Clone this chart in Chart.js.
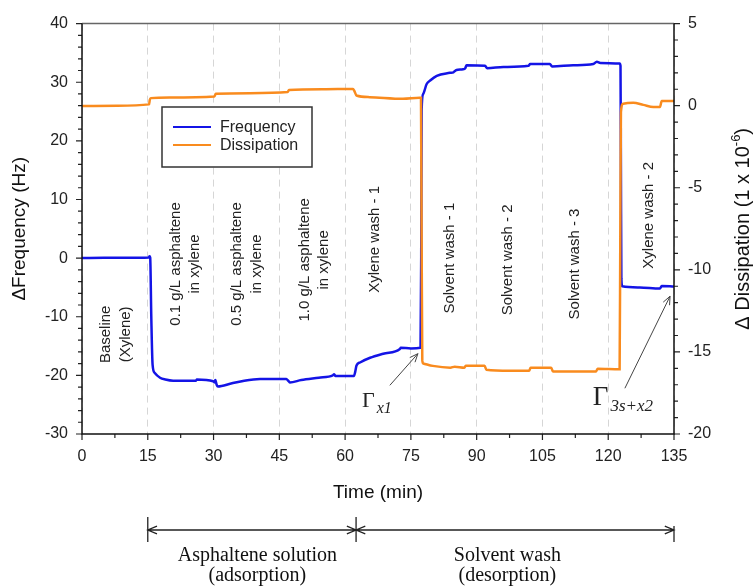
<!DOCTYPE html>
<html>
<head>
<meta charset="utf-8">
<script src="https://cdn.jsdelivr.net/npm/chart.js@4.4.1/dist/chart.umd.min.js"></script>
<style>
  html, body { margin: 0; padding: 0; background: #fff; }
</style>
</head>
<body>
<canvas id="myChart" width="754" height="586"></canvas>
<script>
// frequency shift (Hz), left axis
const freqTime = [0, 5, 10, 15.2, 15.4, 15.55, 15.8, 16.1, 16.6, 17.8, 19, 20.8, 26, 26.2, 29.9, 30.2, 30.4, 30.7, 31.0, 34, 37, 40.6, 46.6, 47.0, 47.4, 50, 54, 57.2, 57.5, 57.8, 62.0, 62.3, 62.6, 63.4, 65.7, 68.7, 72.5, 72.7, 75, 77.2, 77.35, 77.45, 77.8, 78.6, 79.4, 80.9, 83.9, 84.7, 85.4, 86.9, 87.4, 87.7, 91.9, 92.4, 96.1, 101.8, 102.2, 106.7, 107.2, 112, 116.6, 117.4, 118.2, 122.6, 122.8, 122.9, 123.0, 123.2, 127.2, 131.8, 132.2, 135];
const freqValues = [0, 0.05, 0.05, 0.1, 0.3, 0.1, -10, -18.2, -19.6, -20.4, -20.7, -20.9, -20.9, -20.7, -21.0, -21.2, -20.8, -21.6, -21.9, -21.4, -20.9, -20.6, -20.6, -20.9, -21.2, -20.8, -20.4, -20.0, -19.8, -20.1, -20.1, -19.4, -18.3, -17.8, -17.0, -16.3, -15.5, -15.3, -15.4, -15.3, 0, 25.2, 28.0, 29.7, 30.3, 31.1, 31.6, 31.7, 32.1, 32.2, 32.4, 32.9, 32.8, 32.4, 32.6, 32.8, 33.1, 33.1, 32.7, 32.9, 33.1, 33.5, 33.3, 33.2, 32.8, 15, -3.5, -4.8, -5.0, -5.2, -4.75, -4.85];

// dissipation shift (1e-6), right axis
const dissTime = [0, 8, 15.3, 15.45, 15.7, 20, 30.2, 30.5, 38.3, 46.9, 47.2, 55, 61.8, 62.1, 62.6, 65.6, 73.2, 77.0, 77.3, 77.45, 77.6, 77.8, 80, 84, 85, 87.2, 87.5, 91.8, 92.2, 97.6, 102, 102.3, 107, 107.4, 117.2, 117.6, 122.6, 122.75, 122.9, 123.4, 125.7, 128, 130.3, 131.8, 132.2, 135];
const dissValues = [-0.02, 0, 0.08, 0.35, 0.46, 0.5, 0.56, 0.72, 0.76, 0.83, 0.96, 1.0, 1.02, 0.9, 0.62, 0.52, 0.42, 0.48, 0.48, -8, -15.5, -15.7, -15.85, -15.96, -15.9, -15.96, -15.84, -15.84, -16.08, -16.14, -16.14, -15.96, -15.96, -16.2, -16.2, -16.02, -16.05, -8, -0.4, 0.12, 0.18, 0.05, -0.08, -0.08, 0.28, 0.28];

// stage labels written upright inside the plot (time, frequency level)
const stageNames = [['Baseline', '(Xylene)'], ['0.1 g/L asphaltene', 'in xylene'], ['0.5 g/L asphaltene', 'in xylene'], ['1.0 g/L asphaltene', 'in xylene'], ['Xylene wash - 1'], ['Solvent wash - 1'], ['Solvent wash - 2'], ['Solvent wash - 3'], ['Xylene wash - 2']];
const stageTime = [7.75, 23.6, 37.6, 53.0, 66.8, 83.9, 97.0, 112.5, 129.2];
const stageLevel = [-13, -1, -1, -0.3, 3.2, 0, -0.3, -1.0, 7.3];

// Gamma markers with arrows
const gammaSub = ['x1', '3s+x2'];
const gammaTime = [63.85, 116.5];
const gammaLevel = [-25.4, -25.1];
const arrowFromTime = [70.2, 123.8];
const arrowFromLevel = [-21.7, -22.2];
const arrowToTime = [76.6, 134.1];
const arrowToLevel = [-16.3, -6.5];

// phases below the axis
const phaseBounds = [15, 62.5, 135];
const phaseNames = [['Asphaltene solution', '(adsorption)'], ['Solvent wash', '(desorption)']];
const phaseCenter = [40, 97];

const SANS = '"Liberation Sans", Arial, sans-serif';
const SERIF = '"Liberation Serif", "Times New Roman", serif';
Chart.defaults.font.family = SANS;
Chart.defaults.color = '#222';

const arrowHead = (ctx, x0, y0, x1, y1, len) => {
  const a = Math.atan2(y1 - y0, x1 - x0);
  ctx.moveTo(x1 - len * Math.cos(a - 0.4), y1 - len * Math.sin(a - 0.4));
  ctx.lineTo(x1, y1);
  ctx.lineTo(x1 - len * Math.cos(a + 0.4), y1 - len * Math.sin(a + 0.4));
};

const notesPlugin = {
  id: 'notes',
  afterDraw(chart) {
    const { ctx, chartArea: area } = chart;
    const { x, y, y2 } = chart.scales;
    ctx.save();

    // tick marks, major and minor
    ctx.strokeStyle = '#222';
    ctx.lineWidth = 1.2;
    ctx.beginPath();
    for (let v = -30; v <= 40; v += 2) {
      const py = y.getPixelForValue(v);
      const len = v % 10 === 0 ? 6 : 4;
      ctx.moveTo(area.left - len, py);
      ctx.lineTo(area.left, py);
    }
    for (let v = -20; v <= 5; v += 1) {
      const py = y2.getPixelForValue(v);
      const len = v % 5 === 0 ? 6 : 4;
      ctx.moveTo(area.right, py);
      ctx.lineTo(area.right + len, py);
    }
    for (let t = 0; t <= 135; t += 7.5) {
      const px = x.getPixelForValue(t);
      const len = t % 15 === 0 ? 6 : 4;
      ctx.moveTo(px, area.bottom);
      ctx.lineTo(px, area.bottom + len);
    }
    ctx.stroke();

    // frame
    ctx.lineWidth = 1.5;
    ctx.strokeStyle = '#666';
    ctx.beginPath();
    ctx.moveTo(area.left, area.top);
    ctx.lineTo(area.right, area.top);
    ctx.stroke();
    ctx.strokeStyle = '#111';
    ctx.beginPath();
    ctx.moveTo(area.left, area.top);
    ctx.lineTo(area.left, area.bottom);
    ctx.lineTo(area.right, area.bottom);
    ctx.lineTo(area.right, area.top);
    ctx.stroke();

    // legend
    ctx.fillStyle = '#fff';
    ctx.fillRect(162, 107, 150, 60);
    ctx.strokeStyle = '#333';
    ctx.lineWidth = 1.5;
    ctx.strokeRect(162, 107, 150, 60);
    ctx.font = '16px ' + SANS;
    ctx.textAlign = 'left';
    ctx.textBaseline = 'middle';
    chart.data.datasets.forEach((ds, i) => {
      const ly = 127 + i * 18;
      ctx.strokeStyle = ds.borderColor;
      ctx.lineWidth = 2;
      ctx.beginPath();
      ctx.moveTo(173, ly);
      ctx.lineTo(211, ly);
      ctx.stroke();
      ctx.fillStyle = '#222';
      ctx.fillText(ds.label, 220, ly + 1);
    });

    // stage labels
    ctx.font = '15px ' + SANS;
    ctx.textAlign = 'center';
    ctx.fillStyle = '#222';
    stageNames.forEach((lines, i) => {
      ctx.save();
      ctx.translate(x.getPixelForValue(stageTime[i]), y.getPixelForValue(stageLevel[i]));
      ctx.rotate(-Math.PI / 2);
      lines.forEach((s, k) => ctx.fillText(s, 0, (k - (lines.length - 1) / 2) * 19.5));
      ctx.restore();
    });

    // gamma markers
    ctx.textAlign = 'left';
    ctx.textBaseline = 'alphabetic';
    gammaSub.forEach((sub, i) => {
      const gx = x.getPixelForValue(gammaTime[i]);
      const gy = y.getPixelForValue(gammaLevel[i]);
      const big = i === 0 ? 22 : 27;
      ctx.font = big + 'px ' + SERIF;
      ctx.fillStyle = '#222';
      ctx.fillText('\u0393', gx, gy);
      const w = ctx.measureText('\u0393').width;
      ctx.font = 'italic ' + (i === 0 ? 16 : 17) + 'px ' + SERIF;
      ctx.fillText(sub, gx + w + 2, gy + 6);

      const x0 = x.getPixelForValue(arrowFromTime[i]);
      const y0 = y.getPixelForValue(arrowFromLevel[i]);
      const x1 = x.getPixelForValue(arrowToTime[i]);
      const y1 = y.getPixelForValue(arrowToLevel[i]);
      ctx.strokeStyle = '#444';
      ctx.lineWidth = 1;
      ctx.beginPath();
      ctx.moveTo(x0, y0);
      ctx.lineTo(x1, y1);
      arrowHead(ctx, x0, y0, x1, y1, 9);
      ctx.stroke();
    });

    // right axis title with superscript
    ctx.save();
    ctx.translate(743, (area.top + area.bottom) / 2);
    ctx.rotate(-Math.PI / 2);
    ctx.fillStyle = '#111';
    ctx.textBaseline = 'middle';
    ctx.textAlign = 'left';
    const main = '\u0394 Dissipation (1 x 10';
    ctx.font = '20px ' + SANS;
    const w1 = ctx.measureText(main).width;
    const w3 = ctx.measureText(')').width;
    ctx.font = '13px ' + SANS;
    const w2 = ctx.measureText('-6').width;
    let sx = -(w1 + w2 + w3) / 2;
    ctx.font = '20px ' + SANS;
    ctx.fillText(main, sx, 0);
    ctx.font = '13px ' + SANS;
    ctx.fillText('-6', sx + w1, -7);
    ctx.font = '20px ' + SANS;
    ctx.fillText(')', sx + w1 + w2, 0);
    ctx.restore();

    // phase brackets below the time axis
    ctx.strokeStyle = '#222';
    ctx.lineWidth = 1.3;
    const bx = phaseBounds.map((t) => x.getPixelForValue(t));
    ctx.beginPath();
    bx.forEach((px, i) => {
      ctx.moveTo(px, i === 2 ? 526 : 517);
      ctx.lineTo(px, 542);
    });
    for (let i = 0; i < bx.length - 1; i++) {
      ctx.moveTo(bx[i], 530);
      ctx.lineTo(bx[i + 1], 530);
      arrowHead(ctx, bx[i + 1], 530, bx[i], 530, 10);
      arrowHead(ctx, bx[i], 530, bx[i + 1], 530, 10);
    }
    ctx.stroke();
    ctx.font = '20px ' + SERIF;
    ctx.textAlign = 'center';
    ctx.fillStyle = '#111';
    phaseNames.forEach((lines, i) => {
      const px = x.getPixelForValue(phaseCenter[i]);
      ctx.fillText(lines[0], px, 561);
      ctx.fillText(lines[1], px, 581);
    });

    ctx.restore();
  },
};

const ctx = document.getElementById('myChart');
const myChart = new Chart(ctx, {
  type: 'line',
  data: {
    datasets: [
      {
        label: 'Frequency',
        data: freqTime.map((t, i) => ({ x: t, y: freqValues[i] })),
        yAxisID: 'y',
        borderColor: '#1414e6',
        borderWidth: 2.5,
        order: 2,
      },
      {
        label: 'Dissipation',
        data: dissTime.map((t, i) => ({ x: t, y: dissValues[i] })),
        yAxisID: 'y2',
        borderColor: '#f98b1e',
        borderWidth: 2.5,
        order: 1,
      },
    ],
  },
  options: {
    responsive: false,
    animation: false,
    devicePixelRatio: 1,
    layout: { padding: { top: 19, left: 0, right: 0, bottom: 80 } },
    elements: {
      point: { radius: 0 },
      line: { cubicInterpolationMode: 'monotone' },
    },
    scales: {
      x: {
        type: 'linear',
        position: 'bottom',
        min: 0,
        max: 135,
        ticks: { stepSize: 15, autoSkip: false, maxRotation: 0, padding: 13, font: { size: 16 }, color: '#222' },
        grid: { color: '#d6d6d6', lineWidth: 1, drawTicks: false },
        border: { display: false, dash: [7, 5] },
        title: { display: true, text: 'Time (min)', font: { size: 19 }, color: '#111', padding: { top: 0, bottom: 2 } },
        afterFit: (scale) => { scale.height = 72; },
      },
      y: {
        position: 'left',
        min: -30,
        max: 40,
        ticks: { stepSize: 10, padding: 14, font: { size: 16 }, color: '#222' },
        grid: { display: false, drawTicks: false },
        border: { display: false },
        title: { display: true, text: '\u0394Frequency (Hz)', font: { size: 19 }, color: '#111', padding: { top: 8, bottom: 0 } },
        afterFit: (scale) => { scale.width = 82; },
      },
      y2: {
        position: 'right',
        min: -20,
        max: 5,
        ticks: { stepSize: 5, padding: 14, font: { size: 16 }, color: '#222' },
        grid: { display: false, drawTicks: false },
        border: { display: false },
        afterFit: (scale) => { scale.width = 80; },
      },
    },
    plugins: {
      legend: { display: false },
      tooltip: { enabled: false },
    },
  },
  plugins: [notesPlugin],
});
</script>
</body>
</html>
